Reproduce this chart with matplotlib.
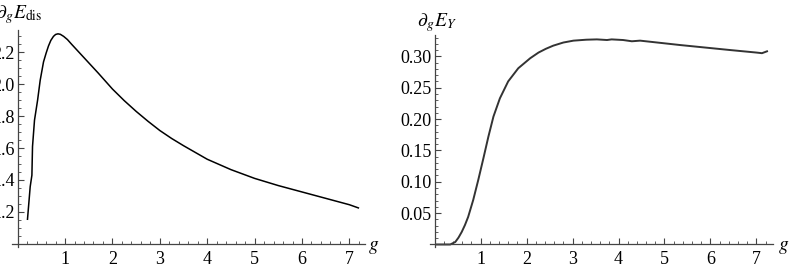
import numpy as np
import matplotlib.pyplot as plt
from matplotlib.ticker import MultipleLocator, FixedLocator

plt.rcParams['font.family'] = 'Liberation Serif'
plt.rcParams['mathtext.fontset'] = 'stix'

# left panel: d_g E_dis vs g
g_dis = [0.207, 0.264, 0.30, 0.313, 0.355, 0.42, 0.475, 0.545, 0.60, 0.65,
         0.70, 0.755, 0.80, 0.85, 0.90, 0.97, 1.05, 1.14, 1.28, 1.42, 1.70,
         2.0, 2.25, 2.5, 2.75, 3.0, 3.25, 3.5, 4.0, 4.5, 5.0, 5.5, 6.0,
         6.5, 7.0, 7.19]
e_dis = [1.154, 1.358, 1.43, 1.61, 1.775, 1.90, 2.025, 2.14, 2.195, 2.24,
         2.275, 2.30, 2.312, 2.316, 2.313, 2.30, 2.28, 2.25, 2.205, 2.16,
         2.07, 1.97, 1.897, 1.83, 1.768, 1.71, 1.66, 1.615, 1.53, 1.465,
         1.41, 1.365, 1.325, 1.285, 1.245, 1.225]

# right panel: d_g E_Y vs g
g_y = [0.05, 0.34, 0.45, 0.52, 0.59, 0.66, 0.73, 0.84, 0.95, 1.06, 1.17,
       1.28, 1.42, 1.60, 1.82, 2.08, 2.26, 2.42, 2.58, 2.80, 3.02, 3.30,
       3.53, 3.75, 3.85, 4.1, 4.29, 4.47, 5.34, 6.43, 7.0, 7.12, 7.23]
e_y = [0.0, 0.0, 0.004, 0.011, 0.020, 0.031, 0.044, 0.071, 0.103, 0.137,
       0.172, 0.204, 0.233, 0.260, 0.281, 0.297, 0.306, 0.312, 0.317,
       0.322, 0.325, 0.3265, 0.327, 0.326, 0.327, 0.326, 0.324, 0.325,
       0.318, 0.310, 0.306, 0.305, 0.308]

dis_ticks = [1.2, 1.4, 1.6, 1.8, 2.0, 2.2]
y_ticks = [0.05, 0.10, 0.15, 0.20, 0.25, 0.30]
x_ticks = [1, 2, 3, 4, 5, 6, 7]

W, H = 791, 280
fig = plt.figure(figsize=(W / 100, H / 100), dpi=100)
axc = '#444444'


def setup(ax, x0, y0, yticks, ylabfmt, minor_y):
    for s in ['top', 'right']:
        ax.spines[s].set_visible(False)
    ax.spines['left'].set_position(('data', x0))
    ax.spines['bottom'].set_position(('data', y0))
    for s in ['left', 'bottom']:
        ax.spines[s].set_color(axc)
        ax.spines[s].set_linewidth(0.9)
    ax.xaxis.set_major_locator(FixedLocator(x_ticks))
    ax.xaxis.set_minor_locator(MultipleLocator(0.2))
    ax.yaxis.set_major_locator(FixedLocator(yticks))
    ax.yaxis.set_minor_locator(MultipleLocator(minor_y))
    ax.set_yticklabels([ylabfmt.format(v) for v in yticks])
    ax.tick_params(which='major', direction='in', length=4, width=0.8,
                   color=axc, labelsize=13)
    ax.tick_params(which='minor', direction='in', length=2, width=0.6,
                   color=axc)
    ax.tick_params(axis='x', pad=5)
    ax.tick_params(axis='y', pad=2)
    ax.patch.set_alpha(0)


# left
ax1 = fig.add_axes([12 / W, 1 - 247 / H, 353 / W, 217 / H])
ax1.plot(g_dis, e_dis, color='black', lw=1.1)
ax1.set_xlim(-0.12, 7.33)
ax1.set_ylim(0.98, 2.34)
setup(ax1, 0, 1.0, dis_ticks, '{:.1f}', 0.05)
fig.text(-4 / W, 1 - 15 / H, r'$\partial_g E_{\mathrm{dis}}$', fontsize=14,
         ha='left', va='center')
fig.text(368 / W, 1 - 247 / H, r'$g$', fontsize=14, ha='left', va='center')

# right
ax2 = fig.add_axes([430 / W, 1 - 247 / H, 343 / W, 212 / H])
ax2.plot(g_y, e_y, color='#333333', lw=1.4)
ax2.set_xlim(-0.1, 7.36)
ax2.set_ylim(-0.004, 0.334)
setup(ax2, 0, 0.0, y_ticks, '{:.2f}', 0.01)
fig.text(417 / W, 1 - 23 / H, r'$\partial_g E_Y$', fontsize=14,
         ha='left', va='center')
fig.text(778 / W, 1 - 247 / H, r'$g$', fontsize=14, ha='left', va='center')

fig.savefig('out.png', dpi=100)
